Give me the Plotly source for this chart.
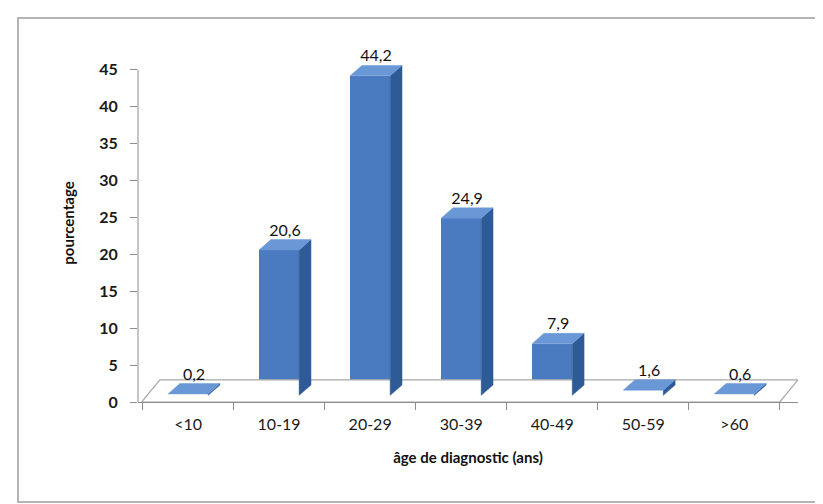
import plotly.graph_objects as go

categories = ["<10", "10-19", "20-29", "30-39", "40-49", "50-59", ">60"]
values = [0.2, 20.6, 44.2, 24.9, 7.9, 1.6, 0.6]
value_labels = ["0,2", "20,6", "44,2", "24,9", "7,9", "1,6", "0,6"]
y_ticks = [0, 5, 10, 15, 20, 25, 30, 35, 40, 45]

W = 823
H = 504
ML, MR, MT, MB = 130, 33, 36, 110
X_RANGE = [-0.55, 6.7]
Y_RANGE = [0, 48.5]
BAR_W = 0.44
DX = 0.13   # depth offset in x units
DY = 1.4    # depth offset in y units
BASE = 0.9  # bars stand in the middle of the floor

FRONT = "#4A7BC0"
SIDE = "#2E5A96"
TOP = "#6A98D6"
AXIS = "#8C8C8C"
FONT = "Lato, Open Sans, sans-serif"

xs = list(range(len(categories)))
fig = go.Figure()

# floor (pseudo 3D)
fx0, fx1 = X_RANGE[0] + 0.04, X_RANGE[1] - 0.2
fig.add_trace(go.Scatter(
    x=[fx0, fx1, fx1 + 0.2, fx0 + 0.2, fx0],
    y=[0, 0, 3, 3, 0],
    mode="lines", fill="toself", fillcolor="rgba(255,255,255,1)",
    line=dict(color="#A8A8A8", width=1.2), hoverinfo="skip", showlegend=False))

# side and top faces derived from the values
for x, v in zip(xs, values):
    xr = x + BAR_W / 2
    xl = x - BAR_W / 2
    top = max(v, BASE + 0.2)
    fig.add_trace(go.Scatter(
        x=[xr, xr + DX, xr + DX, xr, xr],
        y=[BASE, BASE + DY, top + DY, top, BASE],
        mode="lines", fill="toself", fillcolor=SIDE,
        line=dict(color=SIDE, width=0.5), hoverinfo="skip", showlegend=False))
    fig.add_trace(go.Scatter(
        x=[xl, xr, xr + DX, xl + DX, xl],
        y=[top, top, top + DY, top + DY, top],
        mode="lines", fill="toself", fillcolor=TOP,
        line=dict(color=TOP, width=0.5), hoverinfo="skip", showlegend=False))

fig.add_trace(go.Bar(
    x=xs, y=[max(v, BASE + 0.2) - BASE for v in values], base=[BASE] * len(values), width=BAR_W,
    marker=dict(color=FRONT, line=dict(width=0)),
    showlegend=False, hoverinfo="skip"))

fig.add_trace(go.Scatter(
    x=[x + DX / 2 for x in xs], y=[max(v, BASE + 0.2) + DY for v in values],
    mode="text", text=value_labels, textposition="top center",
    textfont=dict(family=FONT, size=16, color="#111111"),
    cliponaxis=False, hoverinfo="skip", showlegend=False))

fig.update_layout(
    width=W, height=H,
    margin=dict(l=ML, r=MR, t=MT, b=MB),
    paper_bgcolor="white", plot_bgcolor="white",
    font=dict(family=FONT, size=14, color="#222222"),
    bargap=0,
    xaxis=dict(
        range=X_RANGE, tickmode="array", tickvals=xs, ticktext=categories,
        showgrid=False, zeroline=False, showline=True, linecolor=AXIS,
        ticks="", tickfont=dict(size=16, color="#1A1A1A"), ticklabelstandoff=8,
        minor=dict(tick0=-0.5, dtick=1, ticks="outside", ticklen=7, tickcolor=AXIS),
        title=dict(text="<b>âge de diagnostic (ans)</b>", font=dict(size=15, color="#111111"), standoff=20),
        fixedrange=True),
    yaxis=dict(
        range=Y_RANGE, tickmode="array", tickvals=y_ticks,
        showgrid=False, zeroline=False, showline=False,
        ticks="outside", ticklen=7, tickcolor=AXIS, ticklabelstandoff=9,
        tickfont=dict(size=16, color="#1A1A1A", weight="bold"),
        title=dict(text="<b>pourcentage</b>", font=dict(size=15, color="#111111"), standoff=20),
        fixedrange=True),
)

# y axis line from 0 to the top tick
fig.add_shape(type="line", xref="paper", yref="y", x0=0, x1=0, y0=0, y1=max(y_ticks),
              line=dict(color=AXIS, width=1))

# outer chart border
pw = W - ML - MR
ph = H - MT - MB
def px(v):
    return (v - ML) / pw
def py(v):
    return (H - MB - v) / ph
fig.add_shape(type="rect", xref="paper", yref="paper",
              x0=px(10), x1=px(815), y0=py(494), y1=py(10),
              line=dict(color="#B5B5B5", width=2), fillcolor="rgba(0,0,0,0)", layer="below")

fig.write_html("out.html")
